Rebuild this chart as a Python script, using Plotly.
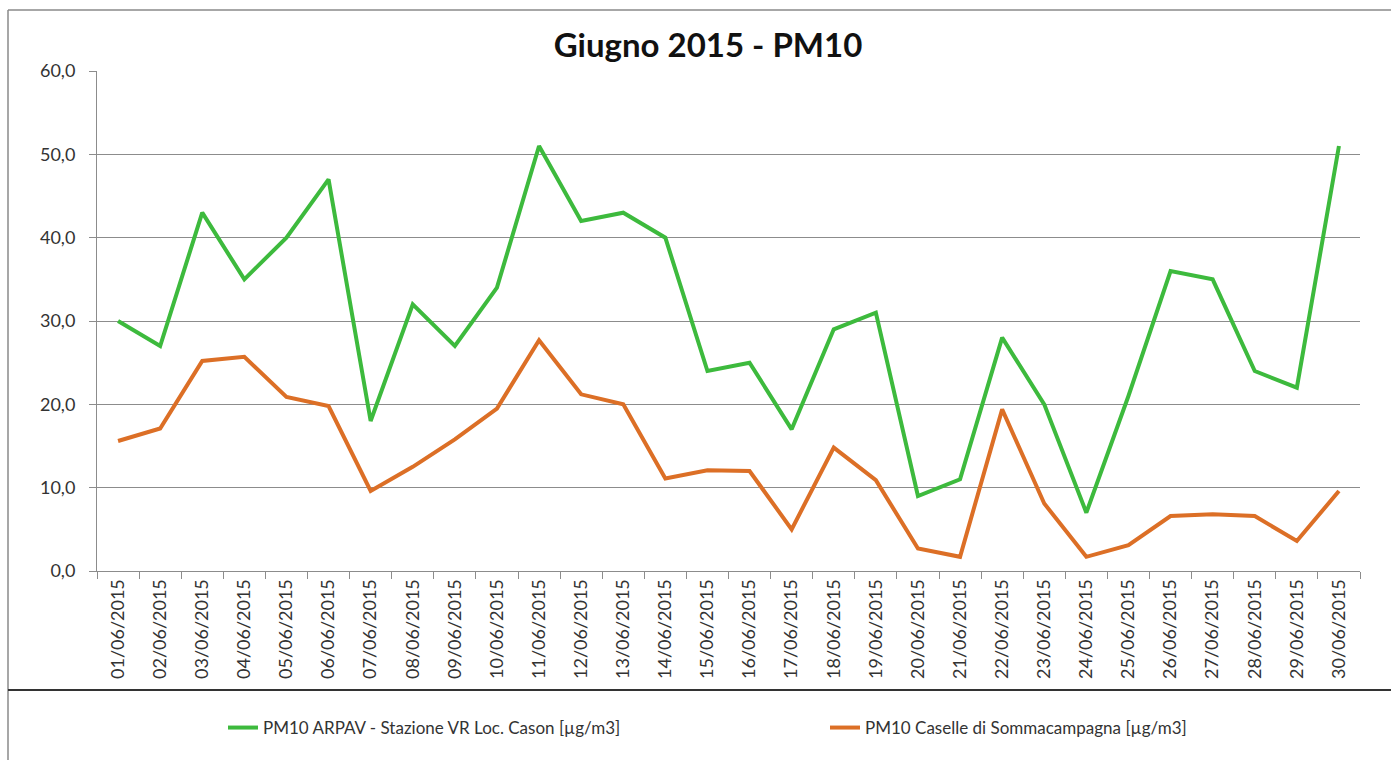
import plotly.graph_objects as go

dates = ["01/06/2015", "02/06/2015", "03/06/2015", "04/06/2015", "05/06/2015",
         "06/06/2015", "07/06/2015", "08/06/2015", "09/06/2015", "10/06/2015",
         "11/06/2015", "12/06/2015", "13/06/2015", "14/06/2015", "15/06/2015",
         "16/06/2015", "17/06/2015", "18/06/2015", "19/06/2015", "20/06/2015",
         "21/06/2015", "22/06/2015", "23/06/2015", "24/06/2015", "25/06/2015",
         "26/06/2015", "27/06/2015", "28/06/2015", "29/06/2015", "30/06/2015"]

arpav = [30, 27, 43, 35, 40, 47, 18, 32, 27, 34,
         51, 42, 43, 40, 24, 25, 17, 29, 31, 9,
         11, 28, 20, 7, 21, 36, 35, 24, 22, 51]

caselle = [15.6, 17.1, 25.2, 25.7, 20.9, 19.8, 9.6, 12.5, 15.8, 19.5,
           27.7, 21.2, 20.0, 11.1, 12.1, 12.0, 5.0, 14.8, 10.9, 2.7,
           1.7, 19.4, 8.1, 1.7, 3.1, 6.6, 6.8, 6.6, 3.6, 9.6]

name_arpav = "PM10 ARPAV - Stazione VR Loc. Cason [µg/m3]"
name_caselle = "PM10 Caselle di Sommacampagna [µg/m3]"
title_text = "Giugno 2015 - PM10"

W, H = 1391, 760
L, R, T, B = 97, 1360, 71, 571
PW, PH = R - L, B - T


def px_x(px):
    return (px - L) / PW


def px_y(py):
    return (B - py) / PH


FONT = "Lato"
GRID = "#8c8c8c"

fig = go.Figure()
fig.add_trace(go.Scatter(x=dates, y=arpav, mode="lines", name=name_arpav,
                         line=dict(color="#3DBA3D", width=4)))
fig.add_trace(go.Scatter(x=dates, y=caselle, mode="lines", name=name_caselle,
                         line=dict(color="#DC6F26", width=4)))

shapes = [
    # outer chart border (top and left)
    dict(type="line", xref="paper", yref="paper", x0=px_x(8), x1=px_x(W + 5),
         y0=px_y(10), y1=px_y(10), line=dict(color="#8a8a8a", width=1.5)),
    dict(type="line", xref="paper", yref="paper", x0=px_x(8), x1=px_x(8),
         y0=px_y(10), y1=px_y(H + 5), line=dict(color="#8a8a8a", width=1.5)),
    # separator above legend
    dict(type="line", xref="paper", yref="paper", x0=px_x(8), x1=px_x(W + 5),
         y0=px_y(690), y1=px_y(690), line=dict(color="#333333", width=2)),
]

fig.update_layout(
    width=W, height=H,
    margin=dict(l=L, r=W - R, t=T, b=H - B, autoexpand=False),
    paper_bgcolor="white", plot_bgcolor="white",
    separators=",.",
    font=dict(family=FONT, color="#333333"),
    title=dict(text="<b>" + title_text + "</b>", x=708 / W, xref="container",
               xanchor="center", y=1 - 45 / H, yref="container", yanchor="middle",
               font=dict(family=FONT, size=33, color="#111111")),
    xaxis=dict(type="category", range=[-0.5, len(dates) - 0.5], tickangle=-90,
               tickson="boundaries",
               ticks="outside", ticklen=7, tickcolor=GRID, showgrid=False,
               showline=True, linecolor=GRID, linewidth=1,
               tickfont=dict(family=FONT, size=18, color="#333333")),
    yaxis=dict(range=[0, 60], dtick=10, tickformat=".1f", ticks="outside",
               ticklen=7, tickcolor=GRID, showgrid=True, gridcolor=GRID,
               gridwidth=1, showline=True, linecolor=GRID, linewidth=1,
               zeroline=False, ticklabelstandoff=10,
               tickfont=dict(family=FONT, size=18, color="#333333")),
    legend=dict(orientation="h", x=px_x(223), xanchor="left", y=px_y(728),
                yanchor="middle", font=dict(family=FONT, size=17, color="#333333"),
                entrywidth=557, entrywidthmode="pixels", bgcolor="rgba(0,0,0,0)"),
    shapes=shapes,
    showlegend=True,
)

fig.write_html("out.html", config={"displayModeBar": False},
               post_script="document.body.style.margin='0';document.body.style.overflow='hidden';")
